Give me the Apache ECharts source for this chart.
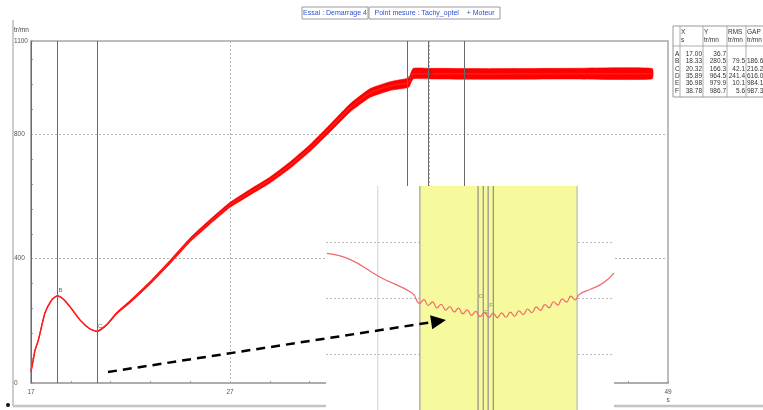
<!DOCTYPE html>
<html>
<head>
<meta charset="utf-8">
<script src="https://cdn.jsdelivr.net/npm/echarts@6/dist/echarts.min.js"></script>
<style>
  html, body { margin: 0; padding: 0; background: #fff; }
  #chart { width: 763px; height: 410px; }
</style>
</head>
<body>
<div id="chart"></div>
<script>
// Run-up record: shaft speed (tr/mn) against time (s)
const T0 = 17;          // first sample of the record, s
const T_END = 49;       // end of the time axis, s

const timeS     = [17.00, 17.10, 17.20, 17.37, 17.70, 18.04, 18.33, 18.65, 18.96, 19.46, 19.96, 20.32, 20.80, 21.31, 21.97, 22.98, 23.98, 24.99, 25.99, 27.00, 28.01, 29.01, 30.02, 31.02, 32.03, 33.03, 34.04, 35.04, 35.89, 36.00, 36.20, 37.00, 40.00, 44.00, 48.20];
const speedRpm  = [36.7, 70, 105, 138, 225, 267, 280.5, 268, 245, 203, 174, 166.3, 187, 225, 261, 322, 389, 460, 518, 573, 614, 653, 701, 756, 820, 885, 933, 955, 964.5, 968, 995, 995, 994, 995, 995];
// peak-to-peak ripple around the mean speed
const spreadRpm = [0, 0, 0, 0, 0, 0, 0, 0, 0, 0, 0, 2, 4, 6, 8, 10, 12, 13, 15, 16, 18, 19, 21, 22, 24, 26, 28, 28, 30, 30, 34, 34, 34, 34, 34];

// measurement cursors
const cursorNames = ['A', 'B', 'C', 'D', 'E', 'F'];
const cursorTime  = [17.00, 18.33, 20.32, 35.89, 36.98, 38.78];
const cursorSpeed = [36.7, 280.5, 166.3, 964.5, 979.9, 986.7];
const cursorRms   = [null, 79.5, 42.1, 241.4, 10.1, 5.6];
const cursorGap   = [null, 186.6, 216.2, 616.0, 984.1, 987.3];

const xTickLabels = [17, 27, 37, 49];
const yTickLabels = [0, 400, 800, 1100];
const gridTimes   = [27, 37];
const gridSpeeds  = [400, 800];

// detail of the dip after cursor C
const zoomTime  = [19.853, 19.933, 20.038, 20.149, 20.175, 20.190, 20.205, 20.220, 20.235, 20.250, 20.265, 20.280, 20.295, 20.310, 20.325, 20.340, 20.355, 20.370, 20.385, 20.400, 20.415, 20.430, 20.445, 20.460, 20.475, 20.490, 20.505, 20.520, 20.535, 20.550, 20.565, 20.580, 20.595, 20.610, 20.625, 20.640, 20.655, 20.670, 20.685, 20.700, 20.715, 20.730, 20.770, 20.800, 20.830, 20.850];
const zoomSpeed = [177.96, 176.9, 173.72, 170.88, 169.05, 169.70, 168.66, 169.30, 168.24, 168.88, 167.85, 168.48, 167.50, 168.18, 167.18, 167.88, 166.91, 167.62, 166.66, 167.41, 166.49, 167.32, 166.48, 167.34, 166.56, 167.47, 166.74, 167.72, 167.03, 168.04, 167.38, 168.42, 167.78, 168.83, 168.24, 169.33, 168.74, 169.85, 169.26, 170.34, 169.68, 170.67, 171.6, 172.3, 173.4, 174.5];
const zoomRange       = [19.85, 20.85];
const zoomSpeedRange  = [150, 190];
const zoomWindow      = [20.176, 20.722];
const zoomMarkerTime  = 20.03;
const zoomCursorTime  = [20.378, 20.396, 20.413, 20.431];
const zoomCursorNames = ['D', 'E', 'F'];
const zoomCursorSpeed = [170.3, 167.4, 168.6];

const FONT = 'Liberation Sans, Arial, sans-serif';
const chart = echarts.init(document.getElementById('chart'), null, { renderer: 'canvas' });

const rel = t => +(t - T0).toFixed(4);
const meanData = timeS.map((t, i) => [rel(t), speedRpm[i]]);
const rippleData = timeS.map((t, i) => [rel(t), speedRpm[i] - spreadRpm[i] / 2, speedRpm[i] + spreadRpm[i] / 2]);

// cursor table (right side)
const tableEls = [];
const tx = 673, ty = 26, rowH = 7.4;
tableEls.push({ type: 'rect', shape: { x: tx, y: ty, width: 100, height: 71 }, style: { fill: '#fff', stroke: '#999', lineWidth: 1 } });
[680, 703, 727, 746].forEach(x => tableEls.push({ type: 'line', shape: { x1: x, y1: ty, x2: x, y2: ty + 71 }, style: { stroke: '#999', lineWidth: 0.8 } }));
tableEls.push({ type: 'line', shape: { x1: tx, y1: 46, x2: 763, y2: 46 }, style: { stroke: '#999', lineWidth: 0.8 } });
const head = [['X', 's', 681], ['Y', 'tr/mn', 704], ['RMS', 'tr/mn', 728], ['GAP', 'tr/mn', 747]];
head.forEach(h => {
  tableEls.push({ type: 'text', style: { x: h[2], y: 32, text: h[0], fontSize: 6.5, fontFamily: FONT, fill: '#333', verticalAlign: 'middle' } });
  tableEls.push({ type: 'text', style: { x: h[2], y: 40, text: h[1], fontSize: 6.5, fontFamily: FONT, fill: '#333', verticalAlign: 'middle' } });
});
cursorNames.forEach((n, i) => {
  const y = 54 + i * rowH;
  const cell = (x, s, align) => tableEls.push({ type: 'text', style: { x: x, y: y, text: s, fontSize: 6.5, fontFamily: FONT, fill: '#333', align: align, verticalAlign: 'middle' } });
  cell(675, n, 'left');
  cell(702, cursorTime[i].toFixed(2), 'right');
  cell(726, cursorSpeed[i].toFixed(1), 'right');
  if (cursorRms[i] != null) cell(745, cursorRms[i].toFixed(1), 'right');
  if (cursorGap[i] != null) cell(747, cursorGap[i].toFixed(1), 'left');
});

const vline = (t, color, width, z) => ({
  type: 'line', xAxisIndex: 1, yAxisIndex: 1, z: z, silent: true, symbol: 'none',
  data: [[t, zoomSpeedRange[0]], [t, zoomSpeedRange[1]]],
  lineStyle: { color: color, width: width }
});

// arrow geometry
const arrowFrom = [108, 372], tip = [446, 320];
const dx = tip[0] - arrowFrom[0], dy = tip[1] - arrowFrom[1];
const len = Math.hypot(dx, dy), ux = dx / len, uy = dy / len;
const base = [tip[0] - 15 * ux, tip[1] - 15 * uy];
const wing1 = [base[0] - 7 * uy, base[1] + 7 * ux];
const wing2 = [base[0] + 7 * uy, base[1] - 7 * ux];

const option = {
  animation: false,
  backgroundColor: '#fff',
  textStyle: { fontFamily: FONT },
  grid: [
    { left: 31, top: 41, width: 637, height: 342, show: true, borderColor: '#a8a8a8', borderWidth: 1.5, backgroundColor: 'transparent' },
    { left: 326, top: 186, width: 288, height: 224, show: false }
  ],
  xAxis: [
    {
      type: 'value', gridIndex: 0, min: 0, max: T_END - T0, interval: 2,
      axisLine: { show: true, lineStyle: { color: '#a8a8a8', width: 1.5 } },
      axisTick: { show: true, inside: true, length: 2, lineStyle: { color: '#999' } },
      axisLabel: {
        margin: 5, fontSize: 6.5, color: '#555', fontFamily: FONT, lineHeight: 8,
        formatter: v => {
          const t = Math.round(v + T0);
          if (!xTickLabels.includes(t)) return '';
          return t === T_END ? t + '\ns' : String(t);
        }
      },
      splitLine: { show: false }
    },
    { type: 'value', gridIndex: 1, min: zoomRange[0], max: zoomRange[1], show: false }
  ],
  yAxis: [
    {
      type: 'value', gridIndex: 0, min: 0, max: 1100, interval: 80,
      axisLine: { show: true, lineStyle: { color: '#a8a8a8', width: 1.5 } },
      axisTick: { show: true, inside: true, length: 2, lineStyle: { color: '#999' } },
      axisLabel: {
        align: 'left', margin: 17, fontSize: 6.5, color: '#555', fontFamily: FONT,
        formatter: v => yTickLabels.includes(v) ? String(v) : ''
      },
      splitLine: { show: false }
    },
    {
      type: 'value', gridIndex: 1, min: zoomSpeedRange[0], max: zoomSpeedRange[1], interval: 10, z: 101,
      axisLine: { show: false }, axisTick: { show: false }, axisLabel: { show: false },
      splitLine: { show: true, showMinLine: false, showMaxLine: false, lineStyle: { color: '#bdbdbd', type: [2, 2], width: 1 } }
    }
  ],
  series: [
    {
      name: 'grid', type: 'line', xAxisIndex: 0, yAxisIndex: 0, data: [], silent: true,
      markLine: {
        silent: true, symbol: 'none', label: { show: false }, z: 1,
        lineStyle: { color: '#b5b5b5', type: [2, 2], width: 1 },
        data: gridTimes.map(t => ({ xAxis: rel(t) })).concat(gridSpeeds.map(v => ({ yAxis: v })))
      }
    },
    {
      name: 'cursors', type: 'scatter', xAxisIndex: 0, yAxisIndex: 0, z: 7, symbolSize: 0,
      data: cursorTime.map((t, i) => ({
        value: [rel(t), cursorSpeed[i]], name: cursorNames[i],
        label: { show: t > T0 }   // the first cursor sits on the axis
      })),
      label: { show: true, formatter: p => p.name, position: 'right', distance: 1, offset: [0, -5], fontSize: 6, color: '#444', fontFamily: FONT },
      markLine: {
        silent: true, symbol: 'none', label: { show: false }, z: 6,
        lineStyle: { color: '#6a6a6a', type: 'solid', width: 1 },
        data: cursorTime.map(t => ({ xAxis: rel(t) }))
      }
    },
    {
      // ripple envelope drawn as one filled band between the low and high edges
      name: 'ripple', type: 'custom', xAxisIndex: 0, yAxisIndex: 0, z: 4, silent: true,
      data: rippleData,
      encode: { x: 0, y: [1, 2] },
      renderItem: (params, api) => {
        if (params.dataIndex !== 0) return null;
        const top = rippleData.map(d => api.coord([d[0], d[2]]));
        const bottom = rippleData.map(d => api.coord([d[0], d[1]])).reverse();
        return {
          type: 'polygon',
          shape: { points: top.concat(bottom), smooth: 0.15 },
          style: { fill: '#ff0000', stroke: '#ff0000', lineWidth: 0.6 }
        };
      }
    },
    {
      name: 'speed', type: 'line', xAxisIndex: 0, yAxisIndex: 0, data: meanData,
      symbol: 'none', smooth: 0.2, lineStyle: { width: 1.5, color: '#ff1a1a' }, z: 5
    },
    // detail view
    {
      name: 'window', type: 'line', xAxisIndex: 1, yAxisIndex: 1, z: 102, silent: true, symbol: 'none',
      data: [[zoomWindow[0], zoomSpeedRange[1]], [zoomWindow[1], zoomSpeedRange[1]]],
      lineStyle: { width: 0 }, areaStyle: { color: '#f6f99c', opacity: 1, origin: 'start' }
    },
    vline(zoomMarkerTime, '#d0d0d0', 1, 103),
    vline(zoomWindow[0], '#b0b0a0', 1.5, 103),
    vline(zoomWindow[1], '#c8c8b8', 1.5, 103),
    ...zoomCursorTime.map(t => vline(t, '#8e8e8e', 1.2, 103)),
    {
      name: 'detail', type: 'line', xAxisIndex: 1, yAxisIndex: 1, z: 104, data: zoomTime.map((t, i) => [t, zoomSpeed[i]]),
      symbol: 'none', smooth: 0.45, lineStyle: { width: 1.2, color: '#f06a6a' }
    },
    {
      name: 'detailCursors', type: 'scatter', xAxisIndex: 1, yAxisIndex: 1, z: 105, symbolSize: 0,
      data: zoomCursorNames.map((n, i) => ({ value: [zoomCursorTime[i], zoomCursorSpeed[i]], name: n })),
      label: { show: true, formatter: p => p.name, position: 'right', distance: 1, fontSize: 5.5, color: '#777', fontFamily: FONT }
    }
  ],
  graphic: [
    // outer frame
    { type: 'line', z: 1, shape: { x1: 13, y1: 20, x2: 13, y2: 406 }, style: { stroke: '#9a9a9a', lineWidth: 1 } },
    { type: 'line', z: 1, shape: { x1: 13, y1: 406, x2: 763, y2: 406 }, style: { stroke: '#c4c4c4', lineWidth: 2.5 } },
    { type: 'circle', z: 1, shape: { cx: 8, cy: 405, r: 2 }, style: { fill: '#111' } },
    // axis unit
    { type: 'text', z: 1, style: { x: 14, y: 30, text: 'tr/mn', fontSize: 6.5, fontFamily: FONT, fill: '#444', verticalAlign: 'middle' } },
    // header boxes
    { type: 'rect', z: 1, shape: { x: 302, y: 7, width: 66, height: 12 }, style: { fill: '#fff', stroke: '#9a9a9a', lineWidth: 1 } },
    { type: 'rect', z: 1, shape: { x: 369, y: 7, width: 131, height: 12 }, style: { fill: '#fff', stroke: '#9a9a9a', lineWidth: 1 } },
    { type: 'text', z: 2, style: { x: 335, y: 13.5, text: 'Essai : Demarrage 4', fontSize: 7, fontFamily: FONT, fill: '#3050d0', align: 'center', verticalAlign: 'middle' } },
    { type: 'text', z: 2, style: { x: 434.5, y: 13.5, text: 'Point mesure : Tachy_optel    + Moteur', fontSize: 7, fontFamily: FONT, fill: '#3050d0', align: 'center', verticalAlign: 'middle' } },
    // cursor table
    { type: 'group', z: 2, children: tableEls },
    // background of the detail view
    { type: 'rect', z: 100, shape: { x: 326, y: 186, width: 288, height: 224 }, style: { fill: '#fff' } },
    // dashed pointer to the detail view
    { type: 'line', z: 200, shape: { x1: arrowFrom[0], y1: arrowFrom[1], x2: base[0], y2: base[1] }, style: { stroke: '#000', lineWidth: 2.5, lineDash: [9, 6] } },
    { type: 'polygon', z: 200, shape: { points: [tip, wing1, wing2] }, style: { fill: '#000' } }
  ]
};

chart.setOption(option);
</script>
</body>
</html>
